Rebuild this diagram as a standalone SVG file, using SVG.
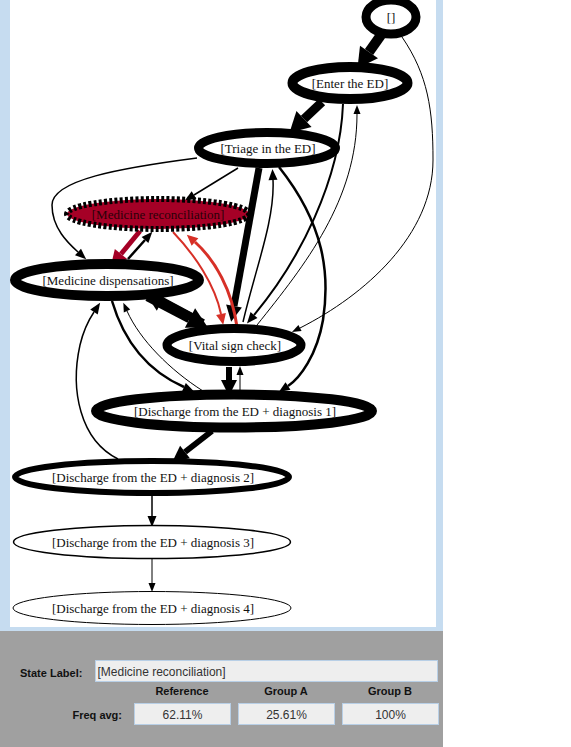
<svg xmlns="http://www.w3.org/2000/svg" width="571" height="747" viewBox="0 0 571 747">
<style>
.n{fill:#fff;stroke:#000}
.t{font-family:"Liberation Serif","Times New Roman",serif;font-size:13px;fill:#111;text-anchor:middle}
.e{fill:none;stroke:#000}
.e.r{stroke:#d73027}
.e.dr{stroke:#a50026}
.lb{font-family:"Liberation Sans",Arial,sans-serif;font-size:11px;font-weight:bold;fill:#111}
.v{font-family:"Liberation Sans",Arial,sans-serif;font-size:12px;fill:#333}
.bx{fill:#eeeeee;stroke:#b8cfe6;stroke-width:1}
</style>
<defs>
<marker id="aS" markerUnits="userSpaceOnUse" markerWidth="9" markerHeight="7" refX="0" refY="3.5" orient="auto" overflow="visible"><path d="M0,0 L9,3.5 L0,7 z" fill="#000"/></marker>
<marker id="aM" markerUnits="userSpaceOnUse" markerWidth="11" markerHeight="9" refX="0" refY="4.5" orient="auto" overflow="visible"><path d="M0,0 L11,4.5 L0,9 z" fill="#000"/></marker>
<marker id="aL" markerUnits="userSpaceOnUse" markerWidth="16" markerHeight="16" refX="0" refY="8" orient="auto" overflow="visible"><path d="M0,0 L16,8 L0,16 z" fill="#000"/></marker>
<marker id="aXL" markerUnits="userSpaceOnUse" markerWidth="20" markerHeight="22" refX="0" refY="11" orient="auto" overflow="visible"><path d="M0,0 L20,11 L0,22 z" fill="#000"/></marker>
<marker id="rM" markerUnits="userSpaceOnUse" markerWidth="11" markerHeight="10" refX="0" refY="5" orient="auto" overflow="visible"><path d="M0,0 L11,5 L0,10 z" fill="#d73027"/></marker>
<marker id="rL" markerUnits="userSpaceOnUse" markerWidth="16" markerHeight="16" refX="0" refY="8" orient="auto" overflow="visible"><path d="M0,0 L16,8 L0,16 z" fill="#a50026"/></marker>
</defs>
<rect x="0" y="0" width="571" height="747" fill="#fff"/>
<rect x="0" y="0" width="443" height="631" fill="#c6dcf0"/>
<rect x="10" y="0" width="426" height="627" fill="#fff"/>

<g id="connectors">
<path class="e" d="M381,35 L369,52" stroke-width="10" marker-end="url(#aXL)"/>
<path class="e" d="M402,37 C428,75 433,110 433,160 C433,235 365,295 300,328" stroke-width="1" marker-end="url(#aS)"/>
<path class="e" d="M322,102 L304,119" stroke-width="9" marker-end="url(#aXL)"/>
<path class="e" d="M343,104 C340,180 300,260 254,315" stroke-width="2" marker-end="url(#aM)"/>
<path class="e" d="M257,325 C305,265 357,200 357,114" stroke-width="1" marker-end="url(#aS)"/>
<path class="e" d="M259,168 L234,306" stroke-width="7" marker-end="url(#aL)"/>
<path class="e" d="M243,322 C255,270 275,220 273,180" stroke-width="1.5" marker-end="url(#aM)"/>
<path class="e" d="M279,167 C325,225 330,275 323,320 C317,355 300,378 288,386" stroke-width="2.5" marker-end="url(#aM)"/>
<path class="e" d="M238,168 L194,195" stroke-width="1.5" marker-end="url(#aM)"/>
<path class="e" d="M197,158 C120,168 52,180 52,205 C52,228 68,243 78,252" stroke-width="1.5" marker-end="url(#aM)"/>
<path class="e dr" d="M140,231 L121,254" stroke-width="5" marker-end="url(#rL)"/>
<path class="e" d="M128,259 L145,240" stroke-width="2.5" marker-end="url(#aM)"/>
<path class="e r" d="M173,232 C195,255 215,285 221,314" stroke-width="2" marker-end="url(#rM)"/>
<path class="e r" d="M237,327 C232,290 215,260 195,242" stroke-width="3" marker-end="url(#rM)"/>
<path class="e" d="M148,296 L190,318" stroke-width="11" marker-end="url(#aXL)"/>
<path class="e" d="M203,323 L162,301" stroke-width="8" marker-end="url(#aXL)"/>
<path class="e" d="M112,301 C125,345 150,372 184,387" stroke-width="2.5" marker-end="url(#aM)"/>
<path class="e" d="M203,391 C170,370 140,340 127,311" stroke-width="1" marker-end="url(#aS)"/>
<path class="e" d="M118,459 C80,440 70,390 80,345 C84,328 90,318 94,312" stroke-width="1.5" marker-end="url(#aM)"/>
<path class="e" d="M229,367 L229,380" stroke-width="6" marker-end="url(#aL)"/>
<path class="e" d="M240,390 L240,375" stroke-width="1" marker-end="url(#aS)"/>
<path class="e" d="M212,431 L185,452" stroke-width="6" marker-end="url(#aL)"/>
<path class="e" d="M152,496 L152,516" stroke-width="1.5" marker-end="url(#aM)"/>
<path class="e" d="M152,559 L152,583" stroke-width="1" marker-end="url(#aS)"/>
</g>

<g id="n_start"><ellipse class="n" cx="391" cy="17" rx="25" ry="17" stroke-width="9"/><text class="t" x="391" y="21.5">[]</text></g>
<g id="n_enter"><ellipse class="n" cx="350" cy="83" rx="57.5" ry="16" stroke-width="10"/><text class="t" x="350" y="87.5">[Enter the ED]</text></g>
<g id="n_triage"><ellipse class="n" cx="267" cy="148" rx="68.5" ry="15.5" stroke-width="9"/><text class="t" x="268" y="152.5">[Triage in the ED]</text></g>
<g id="n_medrec"><ellipse cx="158" cy="214" rx="91" ry="15" fill="#a50026" stroke="#000" stroke-width="6" stroke-dasharray="3 2.2"/><text class="t" x="158" y="218.5" style="fill:#2a0008">[Medicine reconciliation]</text></g>
<g id="n_meddisp"><ellipse class="n" cx="107" cy="280" rx="92" ry="16" stroke-width="10"/><text class="t" x="108" y="284.5">[Medicine dispensations]</text></g>
<g id="n_vital"><ellipse class="n" cx="234" cy="345" rx="67" ry="16.5" stroke-width="9"/><text class="t" x="235" y="349.5">[Vital sign check]</text></g>
<g id="n_d1"><ellipse class="n" cx="234" cy="411" rx="138" ry="16.5" stroke-width="10"/><text class="t" x="235" y="415.5">[Discharge from the ED + diagnosis 1]</text></g>
<g id="n_d2"><ellipse class="n" cx="152" cy="477" rx="137" ry="16" stroke-width="6"/><text class="t" x="153" y="481.5">[Discharge from the ED + diagnosis 2]</text></g>
<g id="n_d3"><ellipse class="n" cx="152" cy="542" rx="138.5" ry="16.5" stroke-width="1.5"/><text class="t" x="153" y="546.5">[Discharge from the ED + diagnosis 3]</text></g>
<g id="n_d4"><ellipse class="n" cx="152" cy="608" rx="139" ry="16.5" stroke-width="1"/><text class="t" x="153" y="612.5">[Discharge from the ED + diagnosis 4]</text></g>

<g id="panel">
<rect x="0" y="631" width="443" height="116" fill="#a0a0a0"/>
<text class="lb" x="20" y="677">State Label:</text>
<rect class="bx" x="95.5" y="660.5" width="342" height="21"/>
<text class="v" x="97.5" y="675.5">[Medicine reconciliation]</text>
<text class="lb" x="182" y="695" text-anchor="middle">Reference</text>
<text class="lb" x="286" y="695" text-anchor="middle">Group A</text>
<text class="lb" x="390" y="695" text-anchor="middle">Group B</text>
<text class="lb" x="122" y="719" text-anchor="end">Freq avg:</text>
<rect class="bx" x="134.5" y="703.5" width="96" height="21"/>
<rect class="bx" x="238.5" y="703.5" width="96" height="21"/>
<rect class="bx" x="342.5" y="703.5" width="96" height="21"/>
<text class="v" x="182.5" y="719" text-anchor="middle">62.11%</text>
<text class="v" x="286.5" y="719" text-anchor="middle">25.61%</text>
<text class="v" x="390.5" y="719" text-anchor="middle">100%</text>
</g>
</svg>
